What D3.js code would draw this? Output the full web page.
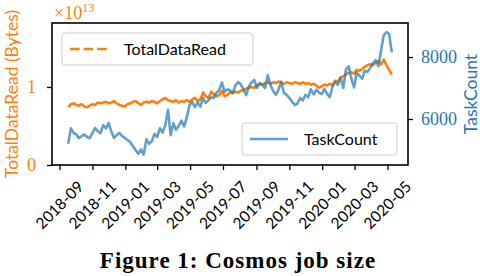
<!DOCTYPE html>
<html>
<head>
<meta charset="utf-8">
<script src="https://cdn.jsdelivr.net/npm/d3@7"></script>
<style>
  body { margin: 0; background: #fff; }
  svg { display: block; }
</style>
</head>
<body>
<svg id="chart" width="480" height="276"></svg>
<script>
// samples every 5 days starting 2018-09-17
const startDate = "2018-09-17"
const stepDays = 5

// TotalDataRead, in units of 1e13 bytes
const dataRead = [
  0.74, 0.78, 0.79, 0.77, 0.76, 0.78, 0.75, 0.74, 0.76, 0.78,
  0.77, 0.80, 0.79, 0.80, 0.81, 0.79, 0.80, 0.82, 0.79, 0.77,
  0.76, 0.75, 0.78, 0.79, 0.81, 0.82, 0.79, 0.77, 0.80, 0.81,
  0.80, 0.82, 0.81, 0.79, 0.82, 0.84, 0.86, 0.83, 0.82, 0.81,
  0.83, 0.80, 0.82, 0.81, 0.83, 0.81, 0.84, 0.86, 0.82, 0.84,
  0.93, 0.88, 0.86, 0.94, 0.91, 0.88, 0.90, 0.95, 0.88, 0.90,
  0.93, 0.92, 0.94, 0.93, 0.95, 0.96, 0.98, 0.99, 1.00, 0.99,
  1.02, 1.04, 1.03, 1.05, 1.06, 1.04, 1.06, 1.05, 1.07, 1.06,
  1.04, 1.06, 1.05, 1.04, 1.06, 1.05, 1.04, 1.06, 1.04, 1.05,
  1.03, 1.04, 1.02, 0.99, 1.01, 1.03, 1.02, 1.04, 1.03, 1.08,
  1.07, 1.12, 1.14, 1.16, 1.18, 1.19, 1.17, 1.22, 1.21, 1.23,
  1.26, 1.28, 1.29, 1.28, 1.31, 1.33, 1.29, 1.35, 1.28, 1.22,
  1.16
]

const taskCount = [
  5200, 5700, 5550, 5500, 5380, 5450, 5500, 5420, 5380, 5550,
  5710, 5600, 5540, 5800, 5700, 5870, 5600, 5390, 5480, 5550,
  5450, 5390, 5320, 5260, 5120, 5000, 4880, 5020, 4850, 5350,
  5200, 5280, 5520, 5420, 5700, 5560, 5800, 6300, 5480, 5860,
  5650, 5780, 5950, 5760, 6060, 6450, 6550, 6380, 6530, 6400,
  6680, 6520, 6600, 6700, 6680, 6850, 6930, 7180, 6880, 6960,
  6920, 6840, 7080, 7190, 7120, 6950, 6770, 7050, 7180, 7260,
  7000, 7160, 7100, 7000, 7420, 7100, 6900, 6780, 6950, 7200,
  6840, 6780, 6680, 6560, 6450, 6500, 6680, 6600, 6780, 6700,
  6960, 6790, 6950, 6850, 6800, 6970, 6810, 6700, 7050, 7190,
  7100, 7330, 7000, 7600, 7700, 7300, 7020, 7500, 7400, 7300,
  7560, 7520, 7650, 7800, 7900, 7700, 8200, 8700, 8800, 8750,
  8150
]

const xTickMonths = ["2018-09", "2018-11", "2019-01", "2019-03", "2019-05", "2019-07",
                     "2019-09", "2019-11", "2020-01", "2020-03", "2020-05"]
const leftTicks = [0, 1]
const rightTicks = [6000, 8000]

const orange = "#ff7f0e"
const blue = "#1f77b4"
const sans = "Lato, 'DejaVu Sans', sans-serif"
const serif = "'Liberation Serif', 'DejaVu Serif', serif"

const margin = { left: 52, right: 72, top: 23, bottom: 111 }
const width = 480, height = 276
const plotW = width - margin.left - margin.right
const plotH = height - margin.top - margin.bottom

var parseMonth = d3.timeParse("%Y-%m")
var t0 = d3.timeParse("%Y-%m-%d")(startDate)
var dates = dataRead.map((d, i) => d3.timeDay.offset(t0, i * stepDays))

// matplotlib style 5% padding on the time axis
var span = dates[dates.length - 1] - dates[0]
var x = d3.scaleTime()
    .domain([new Date(+dates[0] - span * 0.05), new Date(+dates[dates.length - 1] + span * 0.05)])
    .range([0, plotW])

var yLeft = d3.scaleLinear().domain([0, 1.82]).range([plotH, 0])
var yRight = d3.scaleLinear().domain([4516, 9097]).range([plotH, 0])

var svg = d3.select("#chart")
var g = svg.append("g").attr("transform", `translate(${margin.left},${margin.top})`)

// lines
var readLine = d3.line().x((d, i) => x(dates[i])).y(d => yLeft(d))
var taskLine = d3.line().x((d, i) => x(dates[i])).y(d => yRight(d))

g.append("path")
    .datum(dataRead)
    .attr("d", readLine)
    .attr("fill", "none")
    .attr("stroke", orange)
    .attr("stroke-width", 2.6)
    .attr("stroke-linejoin", "round")

g.append("path")
    .datum(taskCount)
    .attr("d", taskLine)
    .attr("fill", "none")
    .attr("stroke", blue)
    .attr("stroke-opacity", 0.7)
    .attr("stroke-width", 2.6)
    .attr("stroke-linejoin", "round")

// frame
g.append("rect")
    .attr("width", plotW)
    .attr("height", plotH)
    .attr("fill", "none")
    .attr("stroke", "#000")
    .attr("stroke-width", 1.6)

// x axis
var xAxis = g.append("g")
    .attr("transform", `translate(0,${plotH})`)
    .call(d3.axisBottom(x).tickValues(xTickMonths.map(parseMonth)).tickSize(5).tickFormat(""))
xAxis.select(".domain").remove()
xAxis.selectAll("line").attr("stroke", "#000").attr("stroke-width", 1.3)

g.append("g").selectAll("text")
    .data(xTickMonths)
    .enter().append("text")
    .attr("transform", d => `translate(${x(parseMonth(d))},${plotH + 40}) rotate(-45)`)
    .attr("text-anchor", "middle")
    .attr("dy", "0.35em")
    .attr("font-family", sans)
    .attr("font-size", 15.5)
    .attr("fill", "#000")
    .text(d => d)

// left axis
var leftAxis = g.append("g")
    .call(d3.axisLeft(yLeft).tickValues(leftTicks).tickSize(5).tickPadding(11).tickFormat(d3.format("d")))
leftAxis.select(".domain").remove()
leftAxis.selectAll("line").attr("stroke", "#000").attr("stroke-width", 1.3)
leftAxis.selectAll("text")
    .attr("fill", orange)
    .attr("font-family", serif)
    .attr("font-size", 18)

// right axis
var rightAxis = g.append("g")
    .attr("transform", `translate(${plotW},0)`)
    .call(d3.axisRight(yRight).tickValues(rightTicks).tickSize(5).tickPadding(8).tickFormat(d3.format("d")))
rightAxis.select(".domain").remove()
rightAxis.selectAll("line").attr("stroke", "#000").attr("stroke-width", 1.3)
rightAxis.selectAll("text")
    .attr("fill", blue)
    .attr("font-family", serif)
    .attr("font-size", 18)

// offset text  x10^13
var offsetText = svg.append("text")
    .attr("x", margin.left + 2)
    .attr("y", 19)
    .attr("font-family", serif)
    .attr("font-size", 18)
    .attr("fill", orange)
offsetText.append("tspan").text("\u00d710")
offsetText.append("tspan").attr("dy", -7).attr("font-size", 12).text("13")

// axis labels
svg.append("text")
    .attr("transform", `translate(18,${margin.top + plotH / 2}) rotate(-90)`)
    .attr("text-anchor", "middle")
    .attr("font-family", sans)
    .attr("font-size", 17.5)
    .attr("fill", orange)
    .text("TotalDataRead (Bytes)")

svg.append("text")
    .attr("transform", `translate(477,${margin.top + plotH / 2}) rotate(-90)`)
    .attr("text-anchor", "middle")
    .attr("font-family", sans)
    .attr("font-size", 17.5)
    .attr("fill", blue)
    .text("TaskCount")

// legends
function drawLegend(box, label, color, opacity, dash) {
    var lg = g.append("g").attr("transform", `translate(${box.x - margin.left},${box.y - margin.top})`)
    lg.append("rect")
        .attr("width", box.w)
        .attr("height", box.h)
        .attr("rx", 3)
        .attr("fill", "#fff")
        .attr("fill-opacity", 0.8)
        .attr("stroke", "#ccc")
        .attr("stroke-width", 1)
    lg.append("line")
        .attr("x1", 8).attr("x2", 46)
        .attr("y1", box.h / 2).attr("y2", box.h / 2)
        .attr("stroke", color)
        .attr("stroke-opacity", opacity)
        .attr("stroke-width", 2.6)
        .attr("stroke-dasharray", dash)
    lg.append("text")
        .attr("x", box.tx)
        .attr("y", box.h / 2)
        .attr("dy", "0.35em")
        .attr("font-family", sans)
        .attr("font-size", 16)
        .attr("fill", "#000")
        .text(label)
}

drawLegend({ x: 62, y: 33, w: 191, h: 32, tx: 62 }, "TotalDataRead", orange, 1, "9.6,4")
drawLegend({ x: 242, y: 123, w: 155, h: 32, tx: 62 }, "TaskCount", blue, 0.7, null)

// caption
svg.append("text")
    .attr("x", 238)
    .attr("y", 268)
    .attr("text-anchor", "middle")
    .attr("font-family", serif)
    .attr("font-weight", "bold")
    .attr("font-size", 23)
    .attr("letter-spacing", 1)
    .attr("fill", "#000")
    .text("Figure 1: Cosmos job size")
</script>
</body>
</html>
